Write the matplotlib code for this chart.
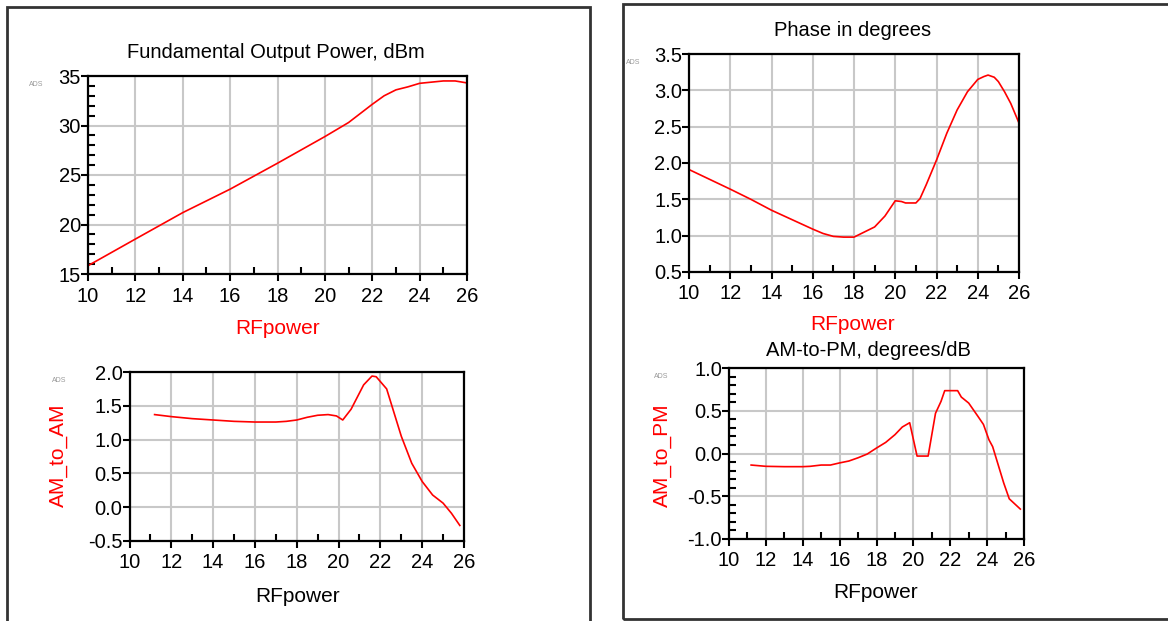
import matplotlib.pyplot as plt
from matplotlib.patches import Rectangle
from matplotlib.ticker import MultipleLocator

plt.switch_backend('Agg')
plt.rcParams['font.family'] = ['Liberation Sans', 'DejaVu Sans']
plt.rcParams['axes.unicode_minus'] = False

# 读图得到的数据
pout_x = [10, 12, 14, 16, 18, 20, 21, 22, 22.5, 23, 23.5, 24, 25, 25.5, 26]
pout_y = [15.84, 18.53, 21.2, 23.57, 26.19, 28.88, 30.3, 32.14, 33.0, 33.6, 33.9, 34.26, 34.5, 34.5, 34.3]

amam_x = [11.2, 12, 13, 14, 15, 16, 17, 17.5, 18, 18.5, 19, 19.5, 19.9, 20.2, 20.6,
          21.2, 21.6, 21.8, 22.3, 23.0, 23.5, 24.0, 24.5, 25.0, 25.4, 25.8]
amam_y = [1.37, 1.34, 1.31, 1.29, 1.27, 1.26, 1.26, 1.27, 1.29, 1.33, 1.36, 1.37, 1.35, 1.29, 1.45,
          1.81, 1.94, 1.93, 1.75, 1.05, 0.65, 0.38, 0.18, 0.06, -0.09, -0.27]

phase_x = [10, 12, 13, 14, 15, 16, 16.5, 17, 17.5, 18, 18.5, 19, 19.5, 20, 20.3, 20.5, 21, 21.2,
           21.5, 22, 22.5, 23, 23.5, 24, 24.3, 24.5, 24.8, 25, 25.3, 25.6, 26]
phase_y = [1.91, 1.64, 1.50, 1.35, 1.22, 1.09, 1.03, 0.99, 0.98, 0.98, 1.05, 1.12, 1.27, 1.48, 1.47,
           1.45, 1.45, 1.51, 1.70, 2.04, 2.41, 2.73, 2.98, 3.15, 3.19, 3.21, 3.18, 3.12, 2.98, 2.82, 2.55]

ampm_x = [11.2, 12, 13, 14, 14.4, 15, 15.5, 16, 16.5, 17, 17.5, 18, 18.5, 19, 19.4, 19.8, 20.2, 20.8,
          21.2, 21.5, 21.7, 22.4, 22.6, 23.0, 23.5, 23.8, 24.1, 24.3, 24.9, 25.2, 25.8]
ampm_y = [-0.135, -0.15, -0.154, -0.154, -0.15, -0.135, -0.135, -0.11, -0.088, -0.05, -0.006, 0.064, 0.13,
          0.22, 0.31, 0.36, -0.03, -0.03, 0.47, 0.61, 0.735, 0.735, 0.66, 0.59, 0.435, 0.34, 0.16, 0.08,
          -0.345, -0.53, -0.65]

W, H = 1168, 621
fig = plt.figure(figsize=(W / 100, H / 100), dpi=100)


def px_axes(l, r, t, b):
    return fig.add_axes([l / W, 1 - b / H, (r - l) / W, (b - t) / H])


def style_axes(ax, ylim, ymaj, ymin=None):
    ax.set_xlim(10, 26)
    ax.set_ylim(*ylim)
    ax.xaxis.set_major_locator(MultipleLocator(2))
    ax.xaxis.set_minor_locator(MultipleLocator(1))
    ax.yaxis.set_major_locator(MultipleLocator(ymaj))
    if ymin:
        ax.yaxis.set_minor_locator(MultipleLocator(ymin))
    ax.grid(True, which='major', color='#c8c8c8', linewidth=1.5)
    ax.set_axisbelow(True)
    for s in ax.spines.values():
        s.set_linewidth(1.6)
    ax.tick_params(which='major', direction='out', length=5, width=1.5, labelsize=14.5, pad=0)
    ax.tick_params(which='minor', direction='in', length=5, width=1.5)
    ax.tick_params(axis='x', which='major', pad=4)


def px_text(x, y, s, **kw):
    fig.text(x / W, 1 - y / H, s, ha='center', va='center', **kw)


# 四个子图
ax1 = px_axes(88, 467, 76, 274)
ax1.plot(pout_x, pout_y, color='red', linewidth=1.2)
style_axes(ax1, (15, 35), 5, 1)

ax2 = px_axes(129.5, 464, 372, 541)
ax2.plot(amam_x, amam_y, color='red', linewidth=1.2)
style_axes(ax2, (-0.5, 2.0), 0.5)
ax2.yaxis.set_major_formatter('{x:.1f}')

ax3 = px_axes(689, 1019, 54, 272)
ax3.plot(phase_x, phase_y, color='red', linewidth=1.2)
style_axes(ax3, (0.5, 3.5), 0.5)
ax3.yaxis.set_major_formatter('{x:.1f}')

ax4 = px_axes(729, 1024, 368, 539)
ax4.plot(ampm_x, ampm_y, color='red', linewidth=1.2)
style_axes(ax4, (-1.0, 1.0), 0.5, 0.1)
ax4.yaxis.set_major_formatter('{x:.1f}')

# 标题和坐标轴标签
px_text(276, 53, 'Fundamental Output Power, dBm', fontsize=14.5)
px_text(853, 31, 'Phase in degrees', fontsize=14.5)
px_text(868, 351, 'AM-to-PM, degrees/dB', fontsize=14.5)

px_text(278, 328, 'RFpower', fontsize=15, color='red')
px_text(298, 596, 'RFpower', fontsize=15)
px_text(853, 325, 'RFpower', fontsize=15, color='red')
px_text(876, 593, 'RFpower', fontsize=15)

px_text(58, 455, 'AM_to_AM', fontsize=15, color='red', rotation=90)
px_text(662, 455, 'AM_to_PM', fontsize=15, color='red', rotation=90)

for x, y in [(36, 84), (59, 380), (633, 62), (661, 377)]:
    px_text(x, y, 'ADS', fontsize=5, color='#999999')

# 外框
fig.add_artist(Rectangle((7 / W, -0.05), (590 - 7) / W, 1 - 7 / H + 0.05, transform=fig.transFigure,
                         fill=False, edgecolor='#333333', linewidth=2))
fig.add_artist(Rectangle((623 / W, 1 - 619 / H), 0.5, (619 - 4) / H, transform=fig.transFigure,
                         fill=False, edgecolor='#333333', linewidth=2))

fig.savefig('out.png', dpi=100)
